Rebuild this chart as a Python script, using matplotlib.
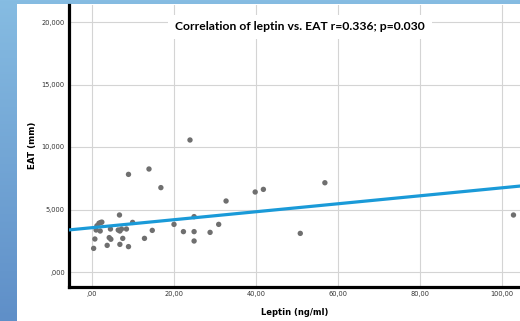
import numpy as np
import matplotlib
matplotlib.use("Agg")
import matplotlib.pyplot as plt
from matplotlib.patches import Rectangle
from matplotlib.colors import LinearSegmentedColormap

# ---- data ----
leptin = [23.9, 8.9, 13.9, 16.8, 39.8, 41.8, 56.8, 32.7, 50.8, 102.8,
          24.9, 20.0, 30.9, 14.7, 22.3, 24.9, 28.8, 12.8, 24.9, 6.7,
          1.7, 2.1, 2.4, 1.2, 1.0, 2.0, 0.7, 0.4, 4.2, 4.6,
          3.7, 4.5, 6.4, 6.8, 7.2, 8.4, 7.5, 6.8, 8.9, 9.9]
eat = [10560, 7810, 8240, 6750, 6400, 6610, 7140, 5680, 3090, 4560,
       4430, 3810, 3810, 3330, 3230, 3230, 3170, 2690, 2480, 4560,
       3900, 3960, 3990, 3700, 3360, 3280, 2640, 1890, 2750, 2620,
       2130, 3440, 3360, 3280, 3440, 3440, 2690, 2210, 2030, 3970]
fit_intercept = 3545.0
fit_slope = 31.9

x_ticks = [0, 20, 40, 60, 80, 100]
x_tick_labels = [",00", "20,00", "40,00", "60,00", "80,00", "100,00"]
y_ticks = [0, 5000, 10000, 15000, 20000]
y_tick_labels = [",000", "5,000", "10,000", "15,000", "20,000"]
title = "Correlation of leptin vs. EAT r=0.336; p=0.030"

W, H = 520, 321
fig = plt.figure(figsize=(W / 100, H / 100), dpi=100)

# background gradient (blue slide frame)
bg = fig.add_axes([0, 0, 1, 1])
grad = np.linspace(0, 1, 256).reshape(-1, 1)
cmap = LinearSegmentedColormap.from_list("bg", ["#86bce2", "#5f8fc8"])
bg.imshow(grad, aspect="auto", cmap=cmap, extent=[0, 1, 0, 1], origin="upper")
bg.add_patch(Rectangle((17 / W, 0), 1, (H - 4) / H, transform=bg.transAxes,
                       facecolor="white", edgecolor="none"))
bg.set_xlim(0, 1)
bg.set_ylim(0, 1)
bg.axis("off")

# main axes
px_per_x = 4.1
x0_px = 92
left_px = 69
xmin = (left_px - x0_px) / px_per_x
xmax = (W - x0_px) / px_per_x
px_per_y = 0.0125
y0_px = 272
bottom_px = 286.5
top_px = 5
ymin = (y0_px - bottom_px) / px_per_y
ymax = (y0_px - top_px) / px_per_y

ax = fig.add_axes([left_px / W, (H - bottom_px) / H, 1 - left_px / W, (bottom_px - top_px) / H])
ax.set_facecolor("none")
ax.set_xlim(xmin, xmax)
ax.set_ylim(ymin, ymax)
ax.set_xticks(x_ticks)
ax.set_xticklabels(x_tick_labels)
ax.set_yticks(y_ticks)
ax.set_yticklabels(y_tick_labels)
ax.tick_params(length=0, labelsize=4.8, colors="#333333", pad=3)
ax.grid(True, color="#d4d4d4", linewidth=0.8)
ax.set_axisbelow(True)
for s in ["top", "right"]:
    ax.spines[s].set_visible(False)
for s in ["left", "bottom"]:
    ax.spines[s].set_linewidth(2.3)
    ax.spines[s].set_color("black")

ax.scatter(leptin, eat, s=15, color="#6f6f6f", edgecolors="none", zorder=3)
xl = np.array([xmin, xmax])
ax.plot(xl, fit_intercept + fit_slope * xl, color="#1a9ad8", linewidth=2.3, zorder=4)

ax.set_xlabel("Leptin (ng/ml)", fontsize=6, fontweight="bold", labelpad=8)
ax.set_ylabel("EAT (mm)", fontsize=6.3, fontweight="bold", labelpad=3)

fig.text(300 / W, 1 - 27 / H, title, ha="center", va="center", fontsize=8.7,
         fontweight="bold", family="Lato",
         bbox=dict(facecolor="white", edgecolor="none", pad=5))

fig.savefig("out.png", dpi=100)
